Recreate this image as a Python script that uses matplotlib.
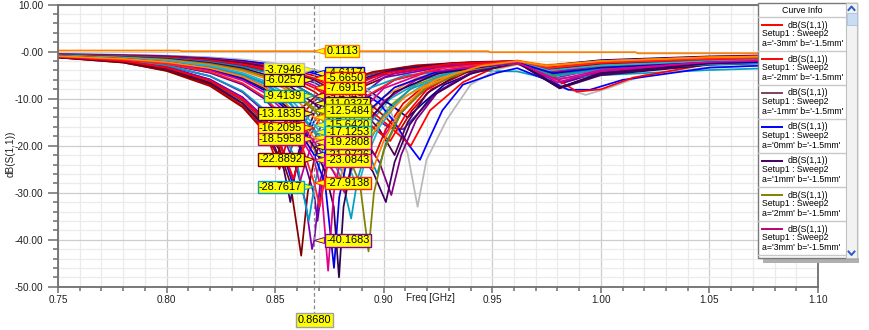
import numpy as np
import matplotlib
matplotlib.use("Agg")
import matplotlib.pyplot as plt
from matplotlib.patches import Rectangle
from matplotlib.lines import Line2D
from matplotlib.ticker import FixedLocator, MultipleLocator

plt.rcParams['font.family'] = ['Liberation Sans', 'DejaVu Sans']

W, H = 869, 330

# axis ticks
x_ticks = [0.75, 0.80, 0.85, 0.90, 0.95, 1.00, 1.05, 1.10]
x_tick_labels = ['0.75', '0.80', '0.85', '0.90', '0.95', '1.00', '1.05', '1.10']
y_ticks = [10, 0, -10, -20, -30, -40, -50]
y_tick_labels = ['10.00', '-0.00', '-10.00', '-20.00', '-30.00', '-40.00', '-50.00']

marker_freq = 0.868

# parametric sweep traces: (freq GHz, dB(S(1,1))) points and trace colour
sweep_colors = [
    '#ff8000',                                                  # 0 flat trace
    '#d00000', '#804060', '#0000ff', '#a00000', '#909000',      # 1-5
    '#3030c0', '#e00000', '#d0009a', '#10a8c8', '#6000a0',      # 6-10
    '#ff9020', '#0000a0', '#c00000',                            # 11-13
    '#800000', '#7a00b0', '#00a0c0', '#c00080', '#400060',      # 14-18
    '#ff0000',                                                  # 19
    '#b8b8b8', '#0000ff', '#ff0000', '#500050', '#ff0000',      # 20-24
    '#800080', '#0090b0', '#400060', '#808000', '#ff8000',      # 25-29
    '#00a0c0', '#20b4d0', '#c000a0', '#300050', '#0000e0',      # 30-34
    '#e0008c', '#ff2020', '#ff8c00',                            # 35-37
]

sweep_points = [
    # 0
    [(.75, 0.25), (.806, 0.25), (.807, 0.1113), (.868, 0.1113), (.948, 0.1113), (.949, -0.1),
     (1.016, -0.1), (1.017, -0.35), (1.10, -0.35)],
    # 1
    [(.75, -1.2), (.78, -2.2), (.80, -3.9), (.82, -7.0), (.835, -11.5), (.845, -16.5), (.852, -25),
     (.856, -18), (.862, -13.5), (.868, -10.5), (.878, -7.2), (.89, -5.0), (.91, -3.3), (.935, -2.4),
     (.9615, -2.0), (.975, -3.2), (1.00, -2.2), (1.05, -1.5), (1.10, -1.1)],
    # 2
    [(.75, -1.1), (.78, -2.0), (.80, -3.5), (.82, -6.4), (.835, -10.5), (.845, -15), (.851, -19.5),
     (.855, -24), (.859, -18.5), (.868, -11.8), (.878, -7.8), (.89, -5.2), (.91, -3.4), (.935, -2.4),
     (.9615, -2.1), (.98, -6.8), (1.00, -4.0), (1.05, -2.4), (1.10, -1.8)],
    # 3
    [(.75, -1.0), (.78, -1.9), (.80, -3.2), (.82, -5.9), (.835, -9.7), (.845, -14), (.852, -19),
     (.858, -28), (.862, -20.5), (.868, -14.8), (.876, -10), (.887, -6.6), (.905, -4.0), (.93, -2.6),
     (.9615, -2.1), (.978, -5.0), (1.00, -3.6), (1.05, -2.4), (1.10, -2.0)],
    # 4
    [(.75, -1.25), (.78, -2.3), (.80, -4.1), (.82, -7.3), (.835, -11.8), (.845, -17), (.851, -22),
     (.856, -15.5), (.862, -12), (.868, -9.8), (.88, -6.5), (.895, -4.3), (.915, -2.9), (.94, -2.2),
     (.9615, -2.0), (.975, -3.0), (1.00, -2.0), (1.05, -1.4), (1.10, -1.0)],
    # 5
    [(.75, -0.8), (.78, -1.2), (.80, -1.65), (.82, -2.6), (.835, -3.8), (.845, -5.2), (.855, -7.4),
     (.868, -12), (.878, -15.5), (.885, -18), (.89, -20), (.895, -16.5), (.903, -11.5), (.915, -7),
     (.935, -3.8), (.9615, -2.1), (.978, -4.0), (1.00, -2.8), (1.05, -1.8), (1.10, -1.3)],
    # 6
    [(.75, -0.6), (.78, -0.85), (.80, -1.15), (.82, -1.75), (.835, -2.5), (.845, -3.3), (.855, -4.5),
     (.868, -6.6), (.88, -9.5), (.892, -13), (.902, -16), (.909, -16.5), (.916, -13), (.925, -8.5),
     (.94, -4.5), (.9615, -2.2), (.976, -3.8), (1.00, -2.5), (1.05, -1.5), (1.10, -1.1)],
    # 7
    [(.75, -0.7), (.78, -0.95), (.80, -1.3), (.82, -2.0), (.835, -2.9), (.845, -3.9), (.855, -5.4),
     (.868, -8.5), (.878, -12), (.888, -16.5), (.896, -22), (.901, -16.5), (.909, -11), (.92, -6.8),
     (.94, -3.5), (.9615, -1.9), (.976, -3.2), (1.00, -2.0), (1.05, -1.2), (1.10, -0.8)],
    # 8
    [(.75, -0.65), (.78, -0.9), (.80, -1.2), (.82, -1.8), (.835, -2.6), (.845, -3.5), (.855, -4.8),
     (.868, -7.2), (.88, -10.5), (.89, -14), (.90, -18), (.906, -14), (.915, -9.5), (.93, -5.2),
     (.9615, -2.0), (.98, -5.5), (1.00, -3.5), (1.05, -2.0), (1.10, -1.5)],
    # 9
    [(.75, -0.9), (.78, -1.4), (.80, -2.05), (.82, -3.3), (.835, -5.0), (.845, -6.9), (.855, -10.2),
     (.868, -16.5), (.876, -21), (.8835, -28), (.8875, -21.5), (.894, -15), (.903, -10), (.918, -6),
     (.94, -3.3), (.9615, -2.5), (.976, -4.6), (1.00, -3.5), (1.05, -2.6), (1.10, -2.2)],
    # 10
    [(.75, -1.05), (.78, -1.75), (.80, -2.7), (.82, -4.5), (.835, -7.0), (.845, -10), (.855, -15),
     (.862, -21), (.868, -30.5), (.8695, -36), (.872, -27), (.878, -18.5), (.888, -11), (.905, -6),
     (.93, -3.2), (.9615, -2.1), (.98, -7.0), (1.00, -4.3), (1.05, -2.4), (1.10, -1.8)],
    # 11
    [(.75, -0.95), (.78, -1.55), (.80, -2.3), (.82, -3.7), (.835, -5.6), (.845, -8.0), (.855, -12),
     (.868, -20.9), (.875, -24.5), (.88, -27), (.884, -21), (.89, -15), (.90, -9.6), (.915, -5.6),
     (.935, -3.2), (.9615, -1.9), (.975, -2.8), (1.00, -1.9), (1.05, -1.1), (1.10, -0.8)],
    # 12
    [(.75, -0.5), (.78, -0.7), (.80, -0.9), (.82, -1.3), (.835, -1.8), (.845, -2.35), (.855, -3.05),
     (.868, -4.2), (.88, -5.9), (.893, -8.4), (.903, -11.2), (.911, -14), (.918, -11), (.928, -7),
     (.945, -3.8), (.9615, -2.1), (.975, -3.0), (1.00, -1.8), (1.05, -1.0), (1.10, -0.6)],
    # 13
    [(.75, -0.55), (.78, -0.78), (.80, -1.0), (.82, -1.45), (.835, -2.05), (.845, -2.7), (.855, -3.6),
     (.868, -5.1), (.88, -7.3), (.892, -10.5), (.901, -14), (.907, -17), (.913, -12.5), (.922, -8),
     (.94, -4.0), (.9615, -2.0), (.976, -3.4), (1.00, -2.2), (1.05, -1.3), (1.10, -0.9)],
    # 14
    [(.75, -1.2), (.78, -2.3), (.80, -4.0), (.82, -6.8), (.835, -11.0), (.845, -15.5), (.852, -21),
     (.857, -28), (.862, -43.4), (.865, -30), (.868, -22.8892), (.872, -17.5), (.88, -11.5),
     (.89, -7.5), (.905, -4.6), (.93, -2.8), (.9615, -2.3), (.976, -3.6), (.985, -3.4), (1.00, -2.6),
     (1.05, -2.0), (1.10, -1.8)],
    # 15
    [(.75, -1.05), (.78, -1.9), (.80, -3.0), (.82, -5.2), (.835, -8.6), (.845, -12.7), (.855, -19.5),
     (.86, -25), (.864, -32), (.867, -42), (.868, -40.1683), (.871, -27), (.876, -18), (.885, -11),
     (.90, -5.5), (.93, -3.0), (.9615, -2.2), (.978, -4.5), (1.00, -3.0), (1.05, -2.2), (1.10, -1.9)],
    # 16
    [(.75, -1.0), (.78, -1.8), (.80, -2.9), (.82, -5.2), (.835, -8.4), (.845, -12.3), (.855, -18.5),
     (.86, -23.5), (.8655, -36), (.868, -28.7617), (.872, -20.5), (.88, -13), (.892, -8), (.91, -5.0),
     (.935, -4.0), (.9615, -4.2), (.976, -5.8), (1.00, -5.0), (1.05, -3.9), (1.10, -3.2)],
    # 17
    [(.75, -1.1), (.78, -2.0), (.80, -3.3), (.82, -6.0), (.835, -9.8), (.845, -14), (.852, -19),
     (.856, -24), (.86, -30), (.864, -23.5), (.868, -18.5958), (.875, -12.5), (.885, -8.2), (.90, -5.0),
     (.93, -2.8), (.9615, -2.1), (.978, -4.2), (1.00, -3.0), (1.05, -2.2), (1.10, -1.8)],
    # 18
    [(.75, -1.15), (.78, -2.1), (.80, -3.6), (.82, -6.6), (.835, -11), (.845, -16), (.85, -20.5),
     (.854, -25), (.857, -32), (.861, -21), (.868, -13.1835), (.876, -9), (.888, -6), (.905, -3.8),
     (.93, -2.5), (.9615, -2.0), (.981, -7.7), (1.00, -4.5), (1.05, -2.5), (1.10, -2.0)],
    # 19
    [(.75, -1.1), (.78, -2.0), (.80, -3.4), (.82, -6.2), (.835, -10.2), (.845, -14.5), (.852, -19.5),
     (.8585, -27), (.862, -21.5), (.868, -16.2095), (.875, -11), (.886, -7.2), (.90, -4.6), (.93, -2.6),
     (.9615, -2.0), (.976, -3.5), (1.00, -2.4), (1.05, -1.6), (1.10, -1.2)],
    # 20
    [(.75, -0.5), (.78, -0.65), (.80, -0.85), (.82, -1.2), (.835, -1.65), (.845, -2.15), (.855, -2.8),
     (.868, -3.7946), (.88, -5.3), (.892, -8.0), (.903, -12.5), (.911, -21.6), (.9156, -33),
     (.9197, -23), (.929, -14.5), (.94, -7.0), (.952, -3.8), (.9615, -2.7), (.975, -5.0), (.985, -8.0),
     (.993, -9.2), (1.003, -7.8), (1.02, -5.0), (1.05, -3.3), (1.10, -2.4)],
    # 21
    [(.75, -0.55), (.78, -0.75), (.80, -0.95), (.82, -1.4), (.835, -1.95), (.845, -2.55), (.855, -3.3),
     (.868, -4.6117), (.88, -6.4), (.89, -8.6), (.898, -11), (.905, -15), (.911, -19.5), (.9167, -23),
     (.921, -18.5), (.927, -12.5), (.9365, -7.0), (.952, -4.5), (.9615, -3.5), (.975, -6.0),
     (.985, -8.1), (.995, -8.1), (1.01, -6.0), (1.05, -3.4), (1.10, -2.5)],
    # 22
    [(.75, -0.6), (.78, -0.8), (.80, -1.05), (.82, -1.55), (.835, -2.2), (.845, -2.9), (.855, -3.9),
     (.868, -5.665), (.88, -8.2), (.892, -11.8), (.903, -16), (.9125, -20), (.9213, -12.5),
     (.9365, -6.5), (.95, -3.6), (.9615, -2.6), (.975, -4.5), (.989, -8.5), (1.00, -8.0),
     (1.015, -5.5), (1.05, -2.6), (1.10, -1.5)],
    # 23
    [(.75, -0.6), (.78, -0.85), (.80, -1.1), (.82, -1.65), (.835, -2.35), (.845, -3.1), (.855, -4.2),
     (.868, -6.0257), (.88, -9.0), (.89, -12.5), (.898, -16.5), (.905, -22), (.911, -15), (.92, -8.8),
     (.935, -4.6), (.9615, -2.3), (.981, -7.7), (1.00, -4.8), (1.05, -2.6), (1.10, -1.9)],
    # 24
    [(.75, -0.65), (.78, -0.9), (.80, -1.2), (.82, -1.85), (.835, -2.7), (.845, -3.6), (.855, -5.0),
     (.868, -7.6915), (.88, -11), (.892, -15), (.903, -19), (.91, -13.5), (.92, -8.0), (.935, -4.3),
     (.9615, -2.0), (.978, -3.3), (1.00, -2.0), (1.05, -1.1), (1.10, -0.7)],
    # 25
    [(.75, -0.7), (.78, -1.0), (.80, -1.35), (.82, -2.1), (.835, -3.1), (.845, -4.2), (.855, -6.0),
     (.868, -9.4549), (.88, -13.5), (.89, -18), (.898, -23.5), (.9035, -30.5), (.908, -22),
     (.915, -14.5), (.925, -8.5), (.94, -4.5), (.9615, -2.2), (.981, -7.6), (1.00, -4.8), (1.05, -2.7),
     (1.10, -2.0)],
    # 26
    [(.75, -0.7), (.78, -1.0), (.80, -1.4), (.82, -2.2), (.835, -3.2), (.845, -4.3), (.855, -6.1),
     (.868, -9.4139), (.878, -13), (.887, -17.5), (.893, -21.5), (.897, -26), (.901, -19.5),
     (.908, -13), (.918, -8), (.935, -4.2), (.9615, -2.4), (.978, -5.0), (1.00, -3.8), (1.05, -2.5),
     (1.10, -2.0)],
    # 27
    [(.75, -0.75), (.78, -1.1), (.80, -1.5), (.82, -2.4), (.835, -3.5), (.845, -4.8), (.855, -6.8),
     (.868, -11.0327), (.878, -15.5), (.887, -20.5), (.895, -25.5), (.901, -32), (.905, -23.5),
     (.912, -15.5), (.922, -9.5), (.94, -4.7), (.9615, -2.3), (.981, -7.8), (1.00, -5.0), (1.05, -2.8),
     (1.10, -2.1)],
    # 28
    [(.75, -0.8), (.78, -1.2), (.80, -1.65), (.82, -2.6), (.835, -3.8), (.845, -5.2), (.855, -7.5),
     (.868, -12.5484), (.877, -17.5), (.884, -22.5), (.889, -28), (.893, -42.5), (.8955, -30),
     (.90, -21), (.908, -13), (.92, -7.5), (.94, -3.8), (.9615, -2.2), (.978, -4.8), (1.00, -3.2),
     (1.05, -2.2), (1.10, -1.7)],
    # 29
    [(.75, -0.85), (.78, -1.3), (.80, -1.8), (.82, -2.8), (.835, -4.1), (.845, -5.6), (.855, -8.0),
     (.868, -14.0193), (.878, -18.5), (.887, -22), (.895, -25), (.90, -19), (.907, -13), (.918, -7.8),
     (.935, -4.2), (.9615, -2.0), (.975, -3.0), (1.00, -2.0), (1.05, -1.2), (1.10, -0.9)],
    # 30
    [(.75, -0.9), (.78, -1.4), (.80, -2.0), (.82, -3.2), (.835, -4.8), (.845, -6.6), (.855, -9.8),
     (.868, -17.1253), (.876, -22.5), (.881, -27.5), (.885, -35.5), (.888, -27), (.893, -19.5),
     (.90, -13.5), (.912, -8), (.935, -3.8), (.9615, -2.4), (.978, -5.2), (1.00, -3.9), (1.05, -2.7),
     (1.10, -2.2)],
    # 31
    [(.75, -0.85), (.78, -1.35), (.80, -1.9), (.82, -3.0), (.835, -4.5), (.845, -6.2), (.855, -9.0),
     (.868, -15.642), (.878, -20.5), (.884, -24.5), (.888, -29), (.892, -22.5), (.898, -16),
     (.907, -10.5), (.92, -6.5), (.94, -3.4), (.9615, -2.1), (.976, -4.0), (1.00, -2.9), (1.05, -2.0),
     (1.10, -1.6)],
    # 32
    [(.75, -0.95), (.78, -1.5), (.80, -2.2), (.82, -3.5), (.835, -5.3), (.845, -7.4), (.855, -11),
     (.868, -19.2808), (.875, -24), (.882, -30), (.886, -23), (.892, -16), (.90, -10.5), (.915, -6),
     (.935, -3.5), (.9615, -2.1), (.98, -6.5), (1.00, -4.2), (1.05, -2.4), (1.10, -1.8)],
    # 33
    [(.75, -0.95), (.78, -1.55), (.80, -2.25), (.82, -3.6), (.835, -5.5), (.845, -7.8), (.855, -11.6),
     (.868, -20.27), (.873, -25.5), (.877, -33), (.8794, -48), (.8815, -33), (.886, -22), (.893, -14.5),
     (.905, -8.6), (.925, -4.6), (.9615, -2.2), (.981, -7.6), (1.00, -4.6), (1.05, -2.5), (1.10, -1.9)],
    # 34
    [(.75, -1.0), (.78, -1.6), (.80, -2.35), (.82, -3.8), (.835, -5.8), (.845, -8.2), (.855, -12.2),
     (.868, -21.9726), (.873, -28), (.8771, -46), (.8795, -31), (.884, -21), (.892, -13), (.905, -7.6),
     (.925, -4.2), (.9615, -2.3), (.978, -4.6), (1.00, -3.4), (1.05, -2.3), (1.10, -1.9)],
    # 35
    [(.75, -1.0), (.78, -1.65), (.80, -2.45), (.82, -4.0), (.835, -6.1), (.845, -8.7), (.855, -13),
     (.868, -23.0843), (.8715, -30), (.8744, -46.6), (.877, -30), (.881, -21), (.888, -13.5),
     (.90, -7.8), (.92, -4.3), (.9615, -2.3), (.98, -6.0), (1.00, -3.9), (1.05, -2.2), (1.10, -1.6)],
    # 36
    [(.75, -1.0), (.78, -1.7), (.80, -2.6), (.82, -4.3), (.835, -6.7), (.845, -9.6), (.855, -14.5),
     (.862, -19.5), (.868, -27.9138), (.8705, -33), (.874, -24.5), (.88, -16.5), (.89, -10),
     (.905, -6), (.925, -3.6), (.9615, -2.0), (.976, -3.5), (1.00, -2.3), (1.05, -1.5), (1.10, -1.1)],
    # 37
    [(.75, -0.95), (.78, -1.5), (.80, -2.2), (.82, -3.5), (.835, -5.3), (.845, -7.5), (.855, -11),
     (.868, -18.3361), (.877, -22), (.886, -24), (.892, -19.5), (.90, -14), (.91, -9.5), (.925, -5.8),
     (.945, -3.0), (.9615, -2.0), (.975, -3.0), (1.00, -2.0), (1.05, -1.2), (1.10, -0.9)],
]

# which traces get a marker readout, and on which side of the marker line
marker_left = [20, 23, 26, 18, 19, 17, 14, 16]
marker_right = [21, 25, 27, 29, 31, 37, 33, 34, 0, 22, 24, 28, 30, 32, 35, 36, 15]

# legend entries (first page of the curve list)
legend_a = ['-3', '-2', '-1', '0', '1', '2', '3']
legend_colors = ['#ff0000', '#ff0000', '#804060', '#0000ff', '#400060', '#808000', '#c0006f']

fig = plt.figure(figsize=(W / 100, H / 100), dpi=100)
ax = fig.add_axes([58 / W, 1 - 286.7 / H, 760 / W, 282 / H])

for pts, c in zip(sweep_points, sweep_colors):
    f, d = zip(*pts)
    ax.plot(f, d, color=c, lw=1.25, solid_joinstyle='round', zorder=2)

ax.set_xlim(0.75, 1.10)
ax.set_ylim(-50, 10)
ax.xaxis.set_major_locator(FixedLocator(x_ticks))
ax.xaxis.set_minor_locator(MultipleLocator(0.01))
ax.set_xticklabels(x_tick_labels)
ax.yaxis.set_major_locator(FixedLocator(y_ticks))
ax.yaxis.set_minor_locator(MultipleLocator(2))
ax.set_yticklabels(y_tick_labels)

ax.set_axisbelow(True)
ax.grid(which='minor', color='#ebebeb', lw=0.9)
ax.grid(which='major', color='#cdcdcd', lw=0.9)
for s in ax.spines.values():
    s.set_color('#6e6e6e')
    s.set_linewidth(1.3)
ax.tick_params(axis='y', which='major', length=7.5, width=1.1, color='#6e6e6e', pad=3,
               labelsize=7.2, labelcolor='#202020')
ax.tick_params(axis='y', which='minor', length=3.8, width=1.1, color='#6e6e6e')
ax.tick_params(axis='x', which='major', length=4, width=1.1, color='#6e6e6e', pad=2,
               labelsize=7.2, labelcolor='#202020')
ax.tick_params(axis='x', which='minor', length=3, width=1.1, color='#6e6e6e')

ax.set_xlabel('Freq [GHz]', fontsize=7.2, color='#202020')
ax.xaxis.label.set_va('center')
ax.xaxis.set_label_coords(0.4895, -0.040)
ax.set_ylabel('dB(S(1,1))', fontsize=7.2, color='#202020')
ax.yaxis.label.set_va('center')
ax.yaxis.set_label_coords(-0.0625, 0.47)

# marker line at the readout frequency
xtr = ax.get_xaxis_transform()
ax.plot([marker_freq, marker_freq], [1.0, -0.095], transform=xtr, clip_on=False,
        color='#8a8a8a', lw=0.9, ls=(0, (3, 2)), zorder=3)
ax.text(marker_freq, -0.118, f'{marker_freq:.4f}', transform=xtr, ha='center', va='center',
        fontsize=7.9, color='black',
        bbox=dict(boxstyle='square,pad=0.15', fc='#ffff00', ec='#a0a0a0', lw=1))


def readout(idx, side):
    f, d = zip(*sweep_points[idx])
    v = np.interp(marker_freq, f, d)
    c = sweep_colors[idx]
    dx = -12 if side == 'left' else 12
    ax.annotate(f'{v:.4f}', xy=(marker_freq, v), xytext=(dx, 0), textcoords='offset pixels',
                ha='right' if side == 'left' else 'left', va='center', fontsize=7.9,
                color='black', zorder=4,
                bbox=dict(boxstyle='square,pad=0.12', fc='#ffff00', ec=c, lw=1),
                arrowprops=dict(arrowstyle='wedge,tail_width=0.55,shrink_factor=0.5',
                                fc='#ffff00', ec=c, lw=0.7, shrinkA=0, shrinkB=0))


for i in marker_left:
    readout(i, 'left')
for i in marker_right:
    readout(i, 'right')


# curve info panel drawn in pixel coordinates
def fx(x):
    return x / W


def fy(y):
    return 1 - y / H


def box(x0, y0, x1, y1, **kw):
    fig.add_artist(Rectangle((fx(x0), fy(y1)), (x1 - x0) / W, (y1 - y0) / H,
                             transform=fig.transFigure, **kw))


def hline(x0, x1, y, **kw):
    fig.add_artist(Line2D([fx(x0), fx(x1)], [fy(y), fy(y)], transform=fig.transFigure, **kw))


box(763, 258, 859, 263, fc='#b0b0b0', ec='none', zorder=9)
box(758, 3, 857, 258, fc='white', ec='#7a7a7a', lw=1, zorder=10)
fig.text(fx(802), fy(10.5), 'Curve Info', ha='center', va='center', fontsize=6.3, zorder=11)
for k in range(8):
    hline(758, 846, 17 + 34 * k, color='#c8c8c8', lw=1, zorder=11)
for k, (a, c) in enumerate(zip(legend_a, legend_colors)):
    top = 17 + 34 * k
    hline(762, 782, top + 8, color=c, lw=1.4, zorder=11)
    fig.text(fx(788), fy(top + 8), 'dB(S(1,1))', ha='left', va='center', fontsize=6.3, zorder=11)
    fig.text(fx(762.5), fy(top + 17), 'Setup1 : Sweep2', ha='left', va='center', fontsize=6.3,
             zorder=11)
    fig.text(fx(762.5), fy(top + 26), f"a='{a}mm' b='-1.5mm'", ha='left', va='center',
             fontsize=6.3, zorder=11)

# scroll bar
box(846, 3, 857, 258, fc='#f2f2f2', ec='#c0c0c0', lw=0.8, zorder=11)
box(846.5, 13, 856.5, 25, fc='#c9dcf2', ec='#a8c0e0', lw=0.6, zorder=12)
fig.add_artist(Line2D([fx(848.5), fx(851.5), fx(854.5)], [fy(10), fy(6.5), fy(10)],
                      transform=fig.transFigure, color='#2a5bc8', lw=1.4, zorder=12))
fig.add_artist(Line2D([fx(848.5), fx(851.5), fx(854.5)], [fy(251.5), fy(255), fy(251.5)],
                      transform=fig.transFigure, color='#2a5bc8', lw=1.4, zorder=12))

fig.savefig('out.png', dpi=100)
